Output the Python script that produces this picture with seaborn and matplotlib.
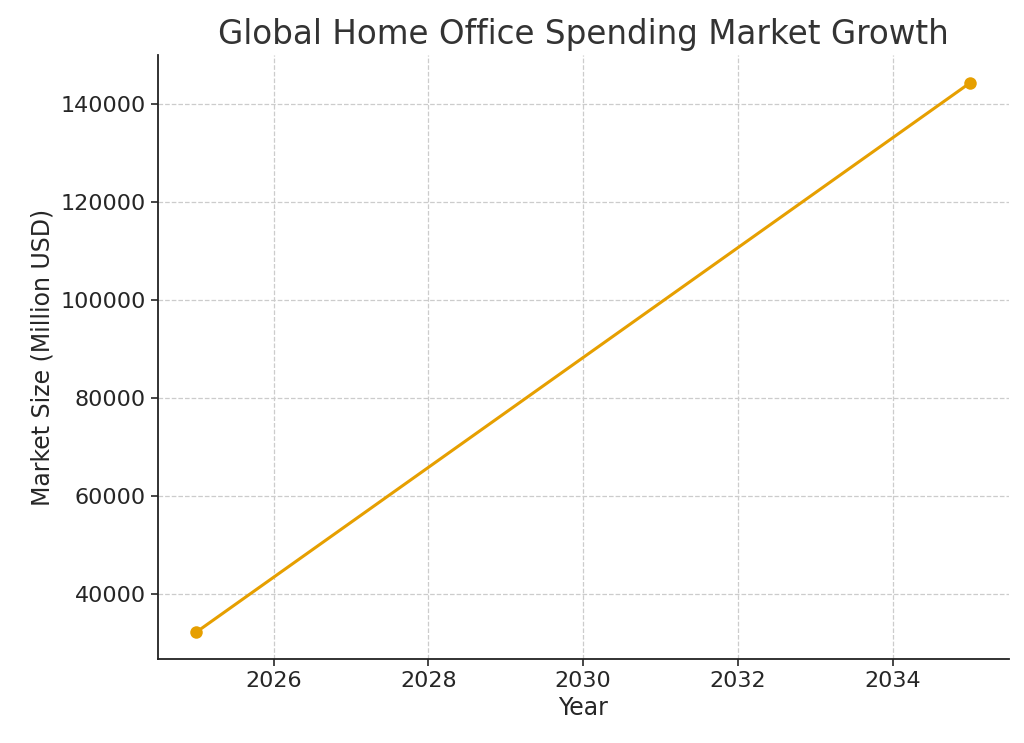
import matplotlib
matplotlib.use("Agg")
import matplotlib.pyplot as plt
import seaborn as sns
import pandas as pd

# -----------------------------
# Data
# -----------------------------
years = [2025, 2035]
market_size = [32300, 144300]

data = pd.DataFrame({"Year": years, "Market Size": market_size})

# -----------------------------
# Plot
# -----------------------------
sns.set_style("ticks")
plt.rcParams["font.family"] = ["DejaVu Sans"]

fig, ax = plt.subplots(figsize=(10.24, 7.43), dpi=100)
fig.subplots_adjust(left=0.154, right=0.985, top=0.926, bottom=0.113)

sns.lineplot(data=data, x="Year", y="Market Size", marker="o",
             color="#E69F00", linewidth=2.2, markersize=9,
             markeredgewidth=0, ax=ax)

ax.set_title("Global Home Office Spending Market Growth",
             fontsize=23.5, color="#333333", pad=8)
ax.set_xlabel("Year", fontsize=17, color="#262626", labelpad=4)
ax.set_ylabel("Market Size (Million USD)", fontsize=17, color="#262626")
ax.tick_params(labelsize=16, colors="#262626", width=1.2, length=5)
ax.set_xticks([2026, 2028, 2030, 2032, 2034])
ax.set_yticks([40000, 60000, 80000, 100000, 120000, 140000])
ax.set_xlim(2024.5, 2035.5)
ax.set_ylim(26800, 150000)
ax.grid(True, linestyle="--", color="#cccccc", linewidth=0.9)
sns.despine(ax=ax)
for side in ["left", "bottom"]:
    ax.spines[side].set_linewidth(1.3)
    ax.spines[side].set_color("#222222")

plt.savefig("out.png")
plt.close()
